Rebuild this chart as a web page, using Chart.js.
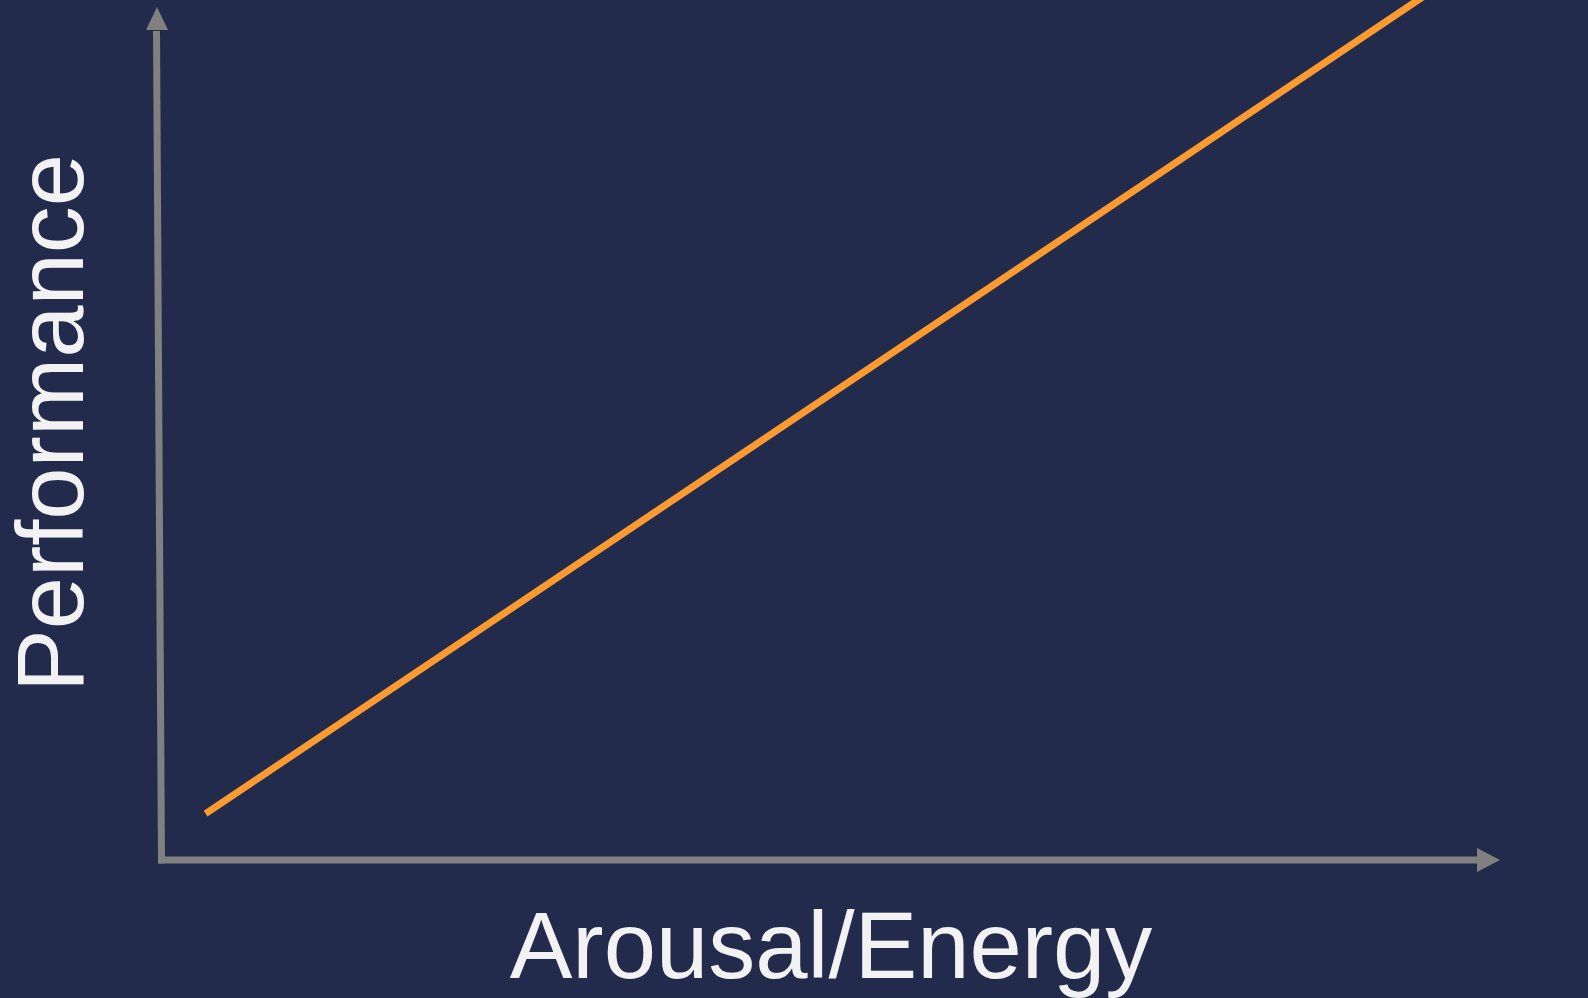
<!DOCTYPE html>
<html>
<head>
<meta charset="utf-8">
<script src="https://cdn.jsdelivr.net/npm/chart.js@4/dist/chart.umd.min.js"></script>
<style>
  html, body { margin: 0; padding: 0; background: #232B4C; overflow: hidden; }
  canvas { display: block; margin-top: -14px; }
</style>
</head>
<body>
<canvas id="c" width="1588" height="1012"></canvas>
<script>
// ---- data ----
const xRange = [0, 100];
const yRange = [0, 100];
const arousal = [3.4, 95.3];
const performance = [5.3, 100];
const xTitle = 'Arousal/Energy';
const yTitle = 'Performance';

const BG = '#232B4C';
const AXIS = '#808080';
const LINE = '#FA9A30';
const TEXT = '#F2F2F2';

const points = arousal.map((x, i) => ({ x: x, y: performance[i] }));

const arrowAxes = {
  id: 'arrowAxes',
  beforeDraw(chart) {
    const ctx = chart.ctx;
    ctx.save();
    ctx.fillStyle = BG;
    ctx.fillRect(0, 0, chart.width, chart.height);
    ctx.restore();
  },
  beforeDatasetsDraw(chart) {
    const ctx = chart.ctx;
    const xs = chart.scales.x, ys = chart.scales.y;
    const x0 = xs.getPixelForValue(xRange[0]);
    const x1 = xs.getPixelForValue(xRange[1]);
    const y0 = ys.getPixelForValue(yRange[0]);
    const yTop = ys.getPixelForValue(yRange[1]);
    ctx.save();
    ctx.strokeStyle = AXIS;
    ctx.fillStyle = AXIS;
    ctx.lineWidth = 7;
    ctx.lineCap = 'butt';
    // x axis
    ctx.beginPath();
    ctx.moveTo(x0 - 2, y0);
    ctx.lineTo(x1 - 25, y0);
    ctx.stroke();
    ctx.beginPath();
    ctx.moveTo(x1 - 2, y0);
    ctx.lineTo(x1 - 25, y0 - 12);
    ctx.lineTo(x1 - 25, y0 + 12);
    ctx.closePath();
    ctx.fill();
    // y axis (slightly slanted as in the original)
    ctx.beginPath();
    ctx.moveTo(x0 + 1.5, y0 + 3.5);
    ctx.lineTo(x0 - 3.5, yTop + 45);
    ctx.stroke();
    ctx.beginPath();
    ctx.moveTo(x0 - 3, yTop + 21);
    ctx.lineTo(x0 - 14, yTop + 44);
    ctx.lineTo(x0 + 8, yTop + 44);
    ctx.closePath();
    ctx.fill();
    ctx.restore();
  }
};

new Chart(document.getElementById('c'), {
  type: 'line',
  data: {
    datasets: [{
      data: points,
      borderColor: LINE,
      borderWidth: 7,
      borderCapStyle: 'butt',
      pointRadius: 0,
      pointHoverRadius: 0,
      fill: false,
      tension: 0
    }]
  },
  options: {
    responsive: false,
    animation: false,
    devicePixelRatio: 1,
    layout: { padding: { left: 0, right: 86, top: 0, bottom: 0 } },
    plugins: { legend: { display: false }, tooltip: { enabled: false } },
    events: [],
    scales: {
      x: {
        type: 'linear',
        min: xRange[0], max: xRange[1],
        grid: { display: false, drawTicks: false },
        border: { display: false },
        ticks: { display: false },
        title: {
          display: true,
          text: xTitle,
          color: TEXT,
          font: { family: 'Liberation Sans', size: 94, lineHeight: 0.9 },
          padding: { top: 49.7, bottom: 3.7 }
        }
      },
      y: {
        type: 'linear',
        min: yRange[0], max: yRange[1],
        grid: { display: false, drawTicks: false },
        border: { display: false },
        ticks: { display: false },
        title: {
          display: true,
          text: yTitle,
          color: TEXT,
          font: { family: 'Liberation Sans', size: 94, lineHeight: 0.9 },
          padding: { top: 14.7, bottom: 60.7 }
        }
      }
    }
  },
  plugins: [arrowAxes]
});
</script>
</body>
</html>
